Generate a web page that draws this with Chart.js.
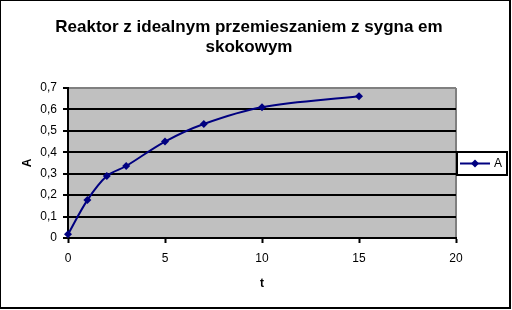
<!DOCTYPE html>
<html>
<head>
<meta charset="utf-8">
<script src="https://cdn.jsdelivr.net/npm/chart.js@4.4.1/dist/chart.umd.min.js"></script>
<style>
  html, body { margin: 0; padding: 0; background: #fff; }
  canvas { display: block; }
</style>
</head>
<body>
<canvas id="chart" width="512" height="310"></canvas>
<script>
const titleLines = ['Reaktor z idealnym przemieszaniem z sygna em', 'skokowym'];
const seriesName = 'A';
const tValues = [0, 1, 2, 3, 5, 7, 10, 15];
const aValues = [0.017, 0.177, 0.289, 0.336, 0.45, 0.532, 0.61, 0.661];
const xTicks = [0, 5, 10, 15, 20];
const yTickLabels = ['0', '0,1', '0,2', '0,3', '0,4', '0,5', '0,6', '0,7'];

const NAVY = '#000080';
const FONT = "'Liberation Sans', Arial, sans-serif";

// gray plot background + white page
const plotBg = {
  id: 'plotBg',
  beforeDraw(chart) {
    const { ctx, chartArea: a } = chart;
    ctx.save();
    ctx.fillStyle = '#fff';
    ctx.fillRect(0, 0, chart.width, chart.height);
    ctx.fillStyle = '#c0c0c0';
    ctx.fillRect(a.left, a.top, a.right - a.left, a.bottom - a.top);
    ctx.strokeStyle = '#808080';
    ctx.lineWidth = 2;
    ctx.beginPath();
    ctx.moveTo(a.right, a.top);
    ctx.lineTo(a.right, a.bottom);
    ctx.stroke();
    ctx.restore();
  }
};

// outer frame and boxed legend
const frame = {
  id: 'frame',
  afterDraw(chart) {
    const { ctx } = chart;
    const ds = chart.data.datasets[0];
    ctx.save();
    ctx.fillStyle = '#000';
    ctx.fillRect(0, 0, 511, 1);
    ctx.fillRect(0, 0, 1, 309);
    ctx.fillRect(509, 0, 2, 309);
    ctx.fillRect(0, 307, 511, 2);

    ctx.strokeStyle = '#000';
    ctx.lineWidth = 2;
    ctx.strokeRect(457, 152, 50, 23);

    ctx.strokeStyle = ds.borderColor;
    ctx.lineWidth = 2;
    ctx.beginPath();
    ctx.moveTo(460, 163.5);
    ctx.lineTo(490, 163.5);
    ctx.stroke();
    ctx.fillStyle = ds.backgroundColor;
    ctx.beginPath();
    ctx.moveTo(475, 159.5);
    ctx.lineTo(479, 163.5);
    ctx.lineTo(475, 167.5);
    ctx.lineTo(471, 163.5);
    ctx.closePath();
    ctx.fill();

    ctx.fillStyle = '#000';
    ctx.font = '12px ' + FONT;
    ctx.textBaseline = 'middle';
    ctx.fillText(ds.label, 494, 163.5);
    ctx.restore();
  }
};

new Chart(document.getElementById('chart'), {
  type: 'line',
  data: {
    datasets: [{
      label: seriesName,
      data: tValues.map((t, i) => ({ x: t, y: aValues[i] })),
      borderColor: NAVY,
      backgroundColor: NAVY,
      borderWidth: 2,
      tension: 0.35,
      pointStyle: 'rectRot',
      pointRadius: 4,
      pointBorderWidth: 0,
      clip: false
    }]
  },
  options: {
    responsive: false,
    devicePixelRatio: 1,
    animation: false,
    layout: { padding: { left: 0, right: 14, top: 0, bottom: 0 } },
    plugins: {
      legend: { display: false },
      tooltip: { enabled: false },
      title: {
        display: true,
        text: titleLines,
        color: '#000',
        font: { family: FONT, size: 17, weight: 'bold', lineHeight: '20px' },
        padding: { top: 17, bottom: 31 }
      }
    },
    scales: {
      x: {
        type: 'linear',
        min: 0,
        max: 20,
        afterBuildTicks: s => { s.ticks = xTicks.map(v => ({ value: v })); },
        afterFit: s => { s.height = 72; },
        ticks: { color: '#000', padding: 8, font: { family: FONT, size: 12 } },
        grid: { drawOnChartArea: false, drawTicks: true, tickLength: 5, tickColor: '#000', tickWidth: 2 },
        border: { color: '#000', width: 2 },
        title: {
          display: true,
          text: 't',
          color: '#000',
          font: { family: FONT, size: 12, weight: 'bold' },
          padding: { top: 0, bottom: 19 }
        }
      },
      y: {
        min: 0,
        max: 0.7,
        afterFit: s => { s.width = 68; },
        ticks: {
          stepSize: 0.1,
          color: '#000',
          padding: 6,
          font: { family: FONT, size: 12 },
          callback: (v, i) => yTickLabels[i]
        },
        grid: {
          color: c => (c.tick && Math.abs(c.tick.value - 0.7) < 1e-6) ? '#808080' : '#000',
          lineWidth: 2,
          tickLength: 5,
          tickColor: '#000',
          tickWidth: 2
        },
        border: { color: '#000', width: 2 },
        title: {
          display: true,
          text: 'A',
          color: '#000',
          font: { family: FONT, size: 12, weight: 'bold' },
          padding: { top: 20, bottom: 0 }
        }
      },
      // empty right-hand strip that leaves room for the boxed legend
      yRight: {
        position: 'right',
        min: 0,
        max: 0.7,
        afterFit: s => { s.width = 42; },
        ticks: { display: false },
        grid: { display: false },
        border: { display: false }
      }
    }
  },
  plugins: [plotBg, frame]
});
</script>
</body>
</html>
